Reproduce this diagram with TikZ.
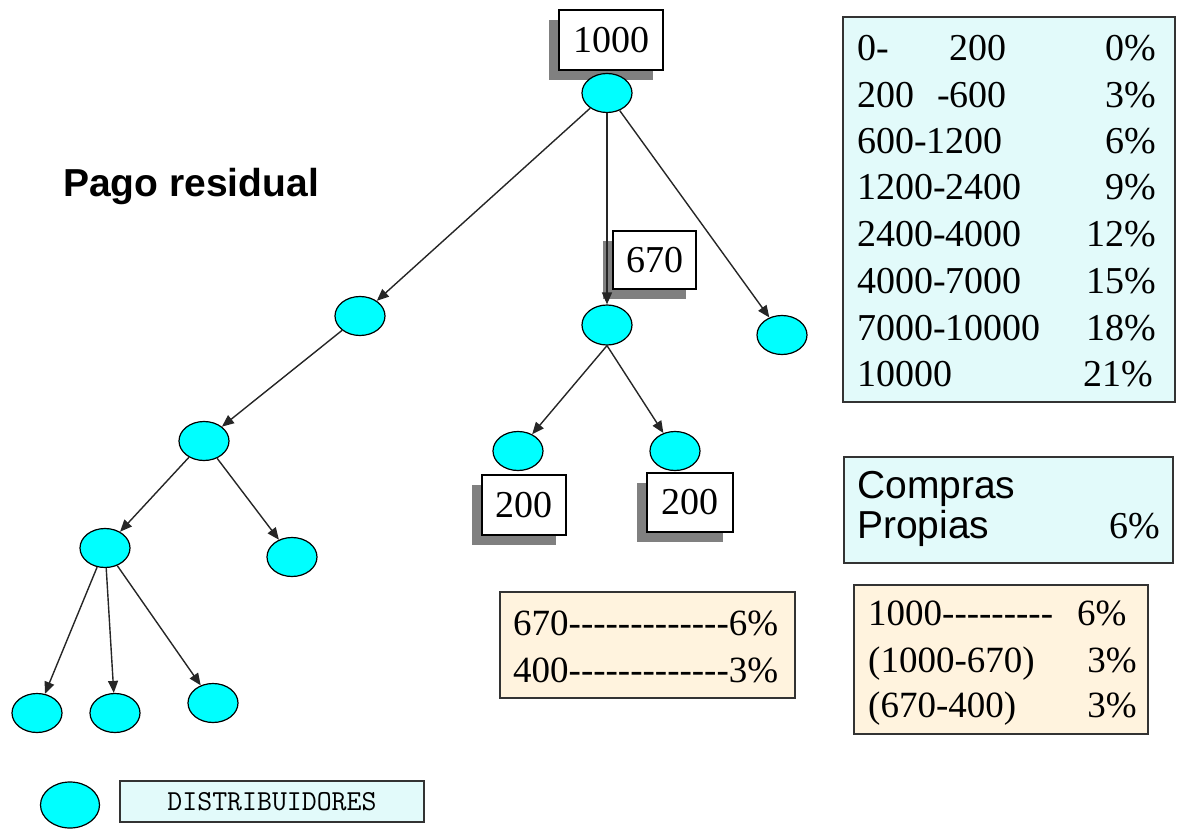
\documentclass[tikz,border=0pt]{standalone}
\usepackage{fontspec}
\setmainfont{Liberation Serif}
\newfontfamily\arialf{Liberation Sans}
\usetikzlibrary{shapes.geometric,arrows.meta,shadows}
\definecolor{aqua}{RGB}{0,255,255}
\definecolor{panelcyan}{RGB}{226,250,250}
\definecolor{panelorange}{RGB}{255,243,222}
\newcommand\hy{\mbox{-}}
\newcommand\hyrow[1]{\foreach \k in {1,...,#1}{\hy}}
\begin{document}
\begin{tikzpicture}[x=1pt,y=-1pt,
  dist/.style={ellipse, draw=black, line width=1.2pt, fill=aqua, minimum width=50pt, minimum height=39pt, inner sep=0pt},
  valbox/.style={draw=black, line width=1.2pt, fill=white, inner sep=0pt,
    font=\fontsize{38}{40}\selectfont,
    drop shadow={shadow xshift=-10pt, shadow yshift=-10pt, fill=black!50, opacity=1}},
  cyanpanel/.style={draw=black!80, line width=1.2pt, inner sep=0pt, fill=panelcyan},
  orangepanel/.style={draw=black!80, line width=1.2pt, inner sep=0pt, fill=panelorange},
  link/.style={line width=1.4pt, black!85, -{Triangle[length=12pt,width=10pt]}},
  tx/.style={inner sep=0pt, font=\fontsize{38}{40}\selectfont},
  txs/.style={inner sep=0pt, font=\fontsize{37}{40}\selectfont},
  sans/.style={inner sep=0pt, font=\arialf\fontsize{39}{40}\selectfont},
]
\useasboundingbox (0,0) rectangle (1178,829);

% title
\node[sans, font=\arialf\bfseries\fontsize{39}{40}\selectfont, anchor=base west] (title) at (63,197) {Pago residual};

% value boxes with shadows
\node[valbox, minimum width=104pt, minimum height=60pt] (b1000) at (611,40) {1000};
\node[valbox, minimum width=83pt, minimum height=58pt] (b670) at (654.5,260) {670};
\node[valbox, minimum width=84pt, minimum height=60pt] (b200a) at (524,505) {200};
\node[valbox, minimum width=86pt, minimum height=59pt] (b200b) at (690,502.5) {200};

% distributors
\node[dist] (root) at (607,93) {};
\node[dist] (a1) at (360,316) {};
\node[dist, minimum height=40pt] (a2) at (607,325) {};
\node[dist] (a3) at (782,335) {};
\node[dist] (b1) at (204,441) {};
\node[dist] (b2) at (292,557) {};
\node[dist] (c1) at (105,548) {};
\node[dist] (d1) at (37,713) {};
\node[dist] (d2) at (115,713) {};
\node[dist] (d3) at (213,703) {};
\node[dist] (m1) at (518,451) {};
\node[dist] (m2) at (675,451) {};

% connectors
\draw[link] (root) -- (a1);
\draw[link] (root) -- (a2);
\draw[link] (root) -- (a3);
\draw[link] (a1) -- (b1);
\draw[link] (b1) -- (c1);
\draw[link] (b1) -- (b2);
\draw[link] (c1) -- (d1);
\draw[link] (c1) -- (d2);
\draw[link] (c1) -- (d3);
\draw[link] (a2.south) -- (m1);
\draw[link] (a2.south) -- (m2);

% rate table
\node[cyanpanel, minimum width=332pt, minimum height=385pt] (tbl) at (1009,209.5) {};
\node[tx, anchor=base west] (r1l) at (857,61) {0-\hspace{61pt}200};
\node[tx, anchor=base east] (r1r) at (1156,61) {0\%};
\node[tx, anchor=base west] (r2l) at (857,107.5) {200\hspace{23pt}-600};
\node[tx, anchor=base east] (r2r) at (1156,107.5) {3\%};
\node[tx, anchor=base west] (r3l) at (857,154) {600-1200};
\node[tx, anchor=base east] (r3r) at (1156,154) {6\%};
\node[tx, anchor=base west] (r4l) at (857,200) {1200-2400};
\node[tx, anchor=base east] (r4r) at (1156,200) {9\%};
\node[tx, anchor=base west] (r5l) at (857,247) {2400-4000};
\node[tx, anchor=base east] (r5r) at (1156,247) {12\%};
\node[tx, anchor=base west] (r6l) at (857,293) {4000-7000};
\node[tx, anchor=base east] (r6r) at (1156,293) {15\%};
\node[tx, anchor=base west] (r7l) at (857,340) {7000-10000};
\node[tx, anchor=base east] (r7r) at (1156,340) {18\%};
\node[tx, anchor=base west] (r8l) at (857,386) {10000};
\node[tx, anchor=base east] (r8r) at (1153,386) {21\%};

% compras propias
\node[cyanpanel, minimum width=329pt, minimum height=106pt] (cp) at (1008.5,510) {};
\node[sans, anchor=base west] (cp1) at (857,498) {Compras};
\node[sans, anchor=base west] (cp2) at (857,538) {Propias};
\node[tx, anchor=base east] (cp3) at (1160,538) {6\%};

% orange boxes
\node[orangepanel, minimum width=295pt, minimum height=106pt] (ol) at (647.5,645) {};
\node[txs, anchor=base west] (ol1) at (513,635) {670\hyrow{13}6\%};
\node[txs, anchor=base west] (ol2) at (513,682) {400\hyrow{13}3\%};

\node[orangepanel, minimum width=294pt, minimum height=149pt] (orr) at (1001,659.5) {};
\node[txs, anchor=base west] (or1) at (868,625) {1000\hyrow{9}};
\node[txs, anchor=base west] (or1p) at (1077,625) {6\%};
\node[txs, anchor=base west] (or2) at (868,672) {(1000-670)};
\node[txs, anchor=base east] (or2p) at (1137,672) {3\%};
\node[txs, anchor=base west] (or3) at (868,717) {(670-400)};
\node[txs, anchor=base east] (or3p) at (1137,717) {3\%};

% legend
\node[dist, minimum width=59pt, minimum height=46pt] (leg) at (70,805) {};
\node[cyanpanel, minimum width=304pt, minimum height=41pt, font=\ttfamily\fontsize{29}{30}\selectfont] (legbox) at (272,801.5) {DISTRIBUIDORES};
\end{tikzpicture}
\end{document}
